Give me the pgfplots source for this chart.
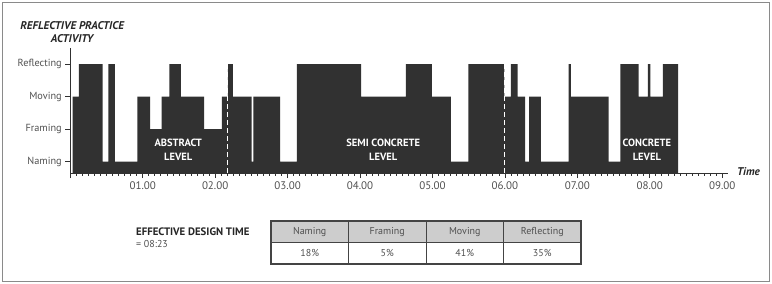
\documentclass[border=0pt]{standalone}
\usepackage{pgfplots}
\pgfplotsset{compat=1.18}
\usepackage{fontspec}
\setmainfont{PT Sans}
\setsansfont{PT Sans}
\definecolor{bar}{HTML}{313131}
\definecolor{txt}{HTML}{505050}
\definecolor{frm}{HTML}{8A8A8A}
\definecolor{hdr}{HTML}{CDCDCD}
\definecolor{tline}{HTML}{444444}
\begin{document}
\begin{tikzpicture}[x=1pt,y=-1pt]
\useasboundingbox (0,0) rectangle (772,284);
\draw[frm, line width=1pt] (2.5,2.5) rectangle (769.5,281.5);
\begin{axis}[
  at={(70.3pt,-173pt)}, anchor=south west,
  scale only axis, width=657.7pt, height=125pt,
  xmin=0, xmax=9.08, ymin=0.65, ymax=4.5,
  axis x line*=bottom, axis y line*=left,
  axis line style={bar, line width=0.8pt},
  xtick={0,...,9},
  xticklabels={,01.00,02.00,03.00,04.00,05.00,06.00,07.00,08.00,09.00},
  minor x tick num=11,
  ytick={1,2,3,4},
  yticklabels={Naming,Framing,Moving,Reflecting},
  tick align=outside,
  major tick length=5pt, minor tick length=2.5pt,
  every tick/.style={bar, line width=0.7pt},
  ticklabel style={text=txt},
  xticklabel style={font=\fontsize{11}{13}\selectfont},
  yticklabel style={font=\fontsize{10.3}{12}\selectfont},
]
\addplot[const plot, fill=bar, draw=none] coordinates {
(0.033,3) (0.120,4) (0.448,1) (0.525,4) (0.617,1) (0.925,3) (1.101,2)
(1.262,3) (1.367,4) (1.525,3) (1.847,2) (2.091,3) (2.174,4) (2.243,3)
(2.505,1) (2.527,3) (2.896,1) (3.127,4) (4.015,3) (4.633,4) (4.992,3)
(5.254,1) (5.497,4) (5.993,3) (6.083,4) (6.174,3) (6.280,1) (6.336,3)
(6.497,1) (6.878,4) (6.912,3) (7.431,1) (7.593,4) (7.845,3) (7.975,4)
(8.007,3) (8.182,4) (8.390,4)
} \closedcycle;
\addplot[white, line width=1.3pt, dash pattern=on 5pt off 3pt] coordinates {(2.175,0.65) (2.175,4)};
\addplot[white, line width=1.3pt, dash pattern=on 5pt off 3pt] coordinates {(5.993,0.65) (5.993,4)};
\node[font=\fontsize{10.5}{14.5}\selectfont\bfseries, text=white, align=center] at (axis cs:1.49,1.37) {ABSTRACT\\LEVEL};
\node[font=\fontsize{10.5}{14.5}\selectfont\bfseries, text=white, align=center] at (axis cs:4.32,1.37) {SEMI CONCRETE\\LEVEL};
\node[font=\fontsize{10.5}{14.5}\selectfont\bfseries, text=white, align=center] at (axis cs:7.96,1.37) {CONCRETE\\LEVEL};
\end{axis}
% axis titles
\node[font=\fontsize{11.2}{13}\selectfont\bfseries\itshape, text=black!85] at (72.2,26) {REFLECTIVE PRACTICE};
\node[font=\fontsize{11.2}{13}\selectfont\bfseries\itshape, text=black!85] at (72,38.5) {ACTIVITY};
\node[font=\fontsize{11.2}{13}\selectfont\bfseries\itshape, text=black!85] at (748.5,172) {Time};
% effective design time
\node[font=\fontsize{10.8}{12}\selectfont\bfseries, text=black!85, anchor=west, inner sep=0pt] at (136,231.7) {EFFECTIVE DESIGN TIME};
\node[font=\fontsize{10}{12}\selectfont, text=txt, anchor=west, inner sep=0pt] at (136,243.5) {= 08:23};
% table
\fill[hdr] (271,221) rectangle (581,242.5);
\draw[tline, line width=0.9pt] (271,242.5) -- (581,242.5);
\foreach \xx in {348.5,426,503.7} \draw[tline, line width=0.9pt] (\xx,221) -- (\xx,264);
\draw[tline, line width=1.2pt] (271,221) rectangle (581,264);
\foreach \xx/\h/\v in {309.7/Naming/18\%, 387.2/Framing/5\%, 464.8/Moving/41\%, 542.3/Reflecting/35\%} {
  \node[font=\fontsize{10}{12}\selectfont, text=txt] at (\xx,231.8) {\h};
  \node[font=\fontsize{10}{12}\selectfont, text=txt] at (\xx,253.3) {\v};
}
\end{tikzpicture}
\end{document}
